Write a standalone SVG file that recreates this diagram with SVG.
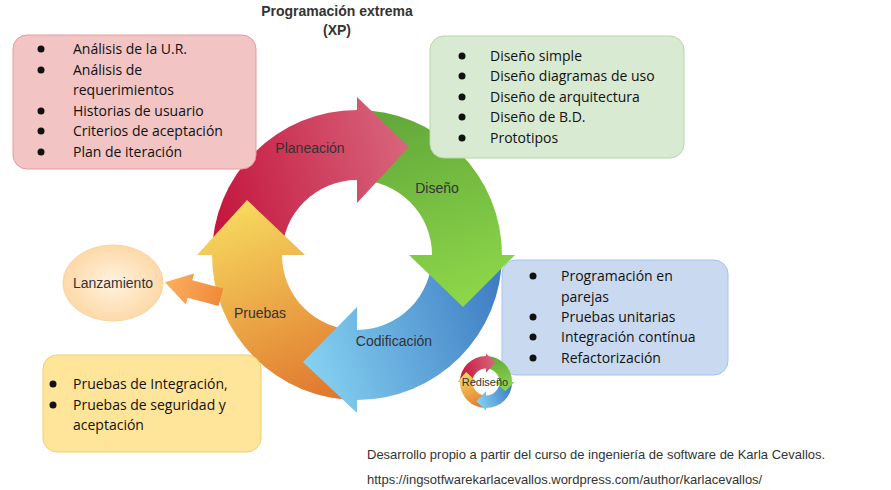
<svg xmlns="http://www.w3.org/2000/svg" xmlns:xlink="http://www.w3.org/1999/xlink" width="891" height="490" viewBox="0 0 891 490">
<style>
.t{font-family:"Open Sans","Liberation Sans",sans-serif;font-size:14px;fill:#111}
.l{font-family:"Liberation Sans",Arial,sans-serif;font-size:14px;fill:#333}
.f{font-family:"Liberation Sans",Arial,sans-serif;font-size:13px;fill:#333}
.b{fill:#111}
</style>
<defs>
<linearGradient id="gr" gradientUnits="userSpaceOnUse" x1="212" y1="200" x2="412" y2="150"><stop offset="0" stop-color="#c4163f"/><stop offset="1" stop-color="#d8667c"/></linearGradient>
<linearGradient id="gg" gradientUnits="userSpaceOnUse" x1="400" y1="110" x2="470" y2="310"><stop offset="0" stop-color="#62a83a"/><stop offset="1" stop-color="#8fd94a"/></linearGradient>
<linearGradient id="gb" gradientUnits="userSpaceOnUse" x1="502" y1="300" x2="305" y2="365"><stop offset="0" stop-color="#3f7ec4"/><stop offset="1" stop-color="#86d2f2"/></linearGradient>
<linearGradient id="go" gradientUnits="userSpaceOnUse" x1="330" y1="400" x2="247" y2="203"><stop offset="0" stop-color="#e0762e"/><stop offset="1" stop-color="#f6d85e"/></linearGradient>
<radialGradient id="ge"><stop offset="0" stop-color="#fff3e0"/><stop offset="1" stop-color="#fdd9a8"/></radialGradient>
<linearGradient id="ga" x1="1" y1="0" x2="0" y2="0"><stop offset="0" stop-color="#f08a3a"/><stop offset="1" stop-color="#fbb060"/></linearGradient>
<g id="cyc">
<path d="M212,255 A145,145 0 0 1 357,110 L357,180 A75,75 0 0 0 282,255 Z" fill="url(#gr)"/>
<path d="M357,110 A145,145 0 0 1 502,255 L432,255 A75,75 0 0 0 357,180 Z" fill="url(#gg)"/>
<path d="M502,255 A145,145 0 0 1 357,400 L357,330 A75,75 0 0 0 432,255 Z" fill="url(#gb)"/>
<path d="M357,400 A145,145 0 0 1 212,255 L282,255 A75,75 0 0 0 357,330 Z" fill="url(#go)"/>
<path d="M357,97 L409,147 L357,203 Z" fill="url(#gr)"/>
<path d="M515,255 L463,307 L409,255 Z" fill="url(#gg)"/>
<path d="M357,307 L303,362 L357,413 Z" fill="url(#gb)"/>
<path d="M305,255 L247,200 L197,255 Z" fill="url(#go)"/>
</g>
</defs>
<g id="title">
<text x="337" y="16" text-anchor="middle" class="l" style="font-weight:bold">Programación extrema</text>
<text x="337" y="35" text-anchor="middle" class="l" style="font-weight:bold">(XP)</text>
</g>
<g id="cycle">
<use xlink:href="#cyc"/>
<text x="310" y="153" text-anchor="middle" class="l">Planeación</text>
<text x="437" y="193" text-anchor="middle" class="l">Diseño</text>
<text x="394" y="346" text-anchor="middle" class="l">Codificación</text>
<text x="260" y="318" text-anchor="middle" class="l">Pruebas</text>
</g>
<g id="planeacion-box">
<rect x="13" y="35" width="243" height="134" rx="14" fill="#f2c4c4" stroke="#e89a9a"/>
<g class="b"><circle cx="41" cy="49" r="3.5"/><circle cx="41" cy="70" r="3.5"/><circle cx="41" cy="111" r="3.5"/><circle cx="41" cy="131" r="3.5"/><circle cx="41" cy="152" r="3.5"/></g>
<text class="t" x="73" y="54">Análisis de la U.R.</text>
<text class="t" x="73" y="75">Análisis de</text>
<text class="t" x="73" y="95">requerimientos</text>
<text class="t" x="73" y="116">Historias de usuario</text>
<text class="t" x="73" y="136">Criterios de aceptación</text>
<text class="t" x="73" y="157">Plan de iteración</text>
</g>
<g id="diseno-box">
<rect x="430" y="36" width="254" height="122" rx="14" fill="#d9ead3" stroke="#b6d7a8"/>
<g class="b"><circle cx="462" cy="56" r="3.5"/><circle cx="462" cy="76" r="3.5"/><circle cx="462" cy="97" r="3.5"/><circle cx="462" cy="117" r="3.5"/><circle cx="462" cy="138" r="3.5"/></g>
<text class="t" x="490" y="61">Diseño simple</text>
<text class="t" x="490" y="81">Diseño diagramas de uso</text>
<text class="t" x="490" y="102">Diseño de arquitectura</text>
<text class="t" x="490" y="122">Diseño de B.D.</text>
<text class="t" x="490" y="143">Prototipos</text>
</g>
<g id="codificacion-box">
<rect x="502" y="260" width="226" height="115" rx="14" fill="#c9daf0" stroke="#a4c2f4"/>
<g class="b"><circle cx="533" cy="276" r="3.5"/><circle cx="533" cy="317" r="3.5"/><circle cx="533" cy="337" r="3.5"/><circle cx="533" cy="358" r="3.5"/></g>
<text class="t" x="561" y="281">Programación en</text>
<text class="t" x="561" y="302">parejas</text>
<text class="t" x="561" y="322">Pruebas unitarias</text>
<text class="t" x="561" y="342">Integración contínua</text>
<text class="t" x="561" y="363">Refactorización</text>
</g>
<g id="pruebas-box">
<rect x="43" y="355" width="218" height="97" rx="14" fill="#ffe599" stroke="#f9cb6b"/>
<g class="b"><circle cx="53" cy="384" r="3.5"/><circle cx="53" cy="405" r="3.5"/></g>
<text class="t" x="73" y="389">Pruebas de Integración,</text>
<text class="t" x="73" y="410">Pruebas de seguridad y</text>
<text class="t" x="73" y="430">aceptación</text>
</g>
<g id="lanzamiento">
<ellipse cx="113" cy="283" rx="50" ry="38" fill="url(#ge)" stroke="#fbd3a0"/>
<text x="113" y="288" text-anchor="middle" class="l">Lanzamiento</text>
</g>
<g id="connectors">
<g transform="translate(190,289) rotate(15)">
<path d="M-26,0 L0,-16 L0,-9 L32,-9 L32,9 L0,9 L0,16 Z" fill="url(#ga)"/>
</g>
</g>
<g id="rediseno">
<use xlink:href="#cyc" transform="translate(486,382) scale(0.18) translate(-357,-255)"/>
<text x="485" y="386" text-anchor="middle" class="l" style="font-size:11px">Rediseño</text>
</g>
<g id="footer">
<text x="367" y="459" class="f">Desarrollo propio a partir del curso de ingeniería de software de Karla Cevallos.</text>
<text x="367" y="484" class="f">https://ingsotfwarekarlacevallos.wordpress.com/author/karlacevallos/</text>
</g>
</svg>
